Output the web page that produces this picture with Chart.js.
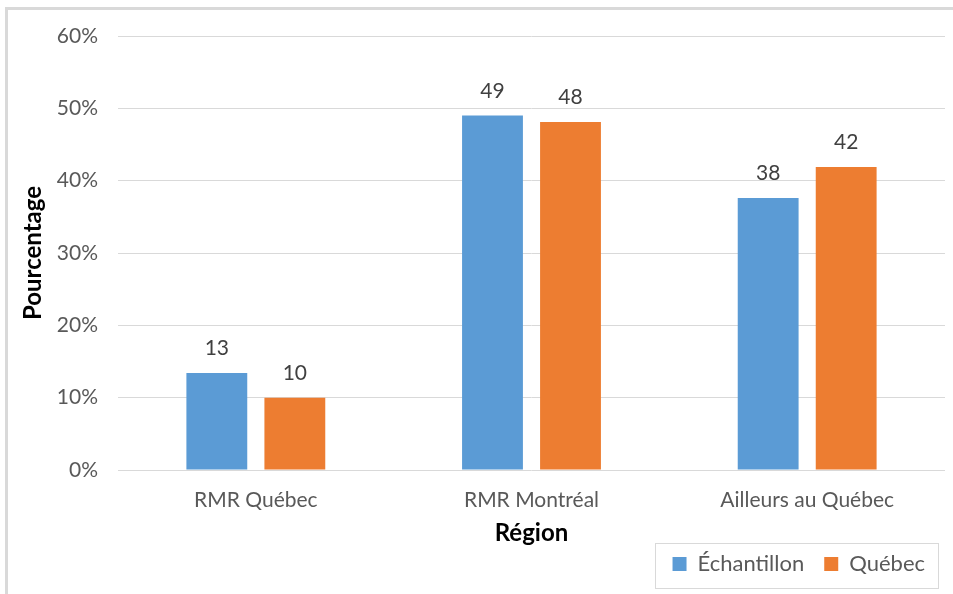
<!DOCTYPE html>
<html>
<head>
<meta charset="utf-8">
<script src="https://cdn.jsdelivr.net/npm/chart.js@4/dist/chart.umd.min.js"></script>
<style>
  html, body { margin: 0; padding: 0; background: #fff; }
  #wrap { position: relative; width: 953px; height: 594px; overflow: hidden; }
  #frame { position: absolute; left: 5px; top: 7px; width: 1000px; height: 700px; border: 3px solid #d9d9d9; box-sizing: border-box; }
  canvas { position: absolute; left: 0; top: 0; }
</style>
</head>
<body>
<div id="wrap">
  <div id="frame"></div>
  <canvas id="myChart" width="953" height="594"></canvas>
</div>
<script>
const regions = ["RMR Québec", "RMR Montréal", "Ailleurs au Québec"];
const echantillon = [13.4, 49.0, 37.6];
const quebec = [10.0, 48.1, 41.9];
const echantillonLabels = ["13", "49", "38"];
const quebecLabels = ["10", "48", "42"];
const yTicks = [0, 10, 20, 30, 40, 50, 60];

const fontFamily = "Lato, 'Open Sans', sans-serif";

// draws the value above each bar
const barValues = {
  id: "barValues",
  afterDatasetsDraw(chart) {
    const ctx = chart.ctx;
    ctx.save();
    ctx.font = "21px " + fontFamily;
    ctx.fillStyle = "#404040";
    ctx.textAlign = "center";
    ctx.textBaseline = "alphabetic";
    chart.data.datasets.forEach((ds, i) => {
      chart.getDatasetMeta(i).data.forEach((bar, j) => {
        ctx.fillText(ds.valueLabels[j], bar.x, bar.y - 18);
      });
    });
    ctx.restore();
  }
};

// keeps the legend short, lifts it a bit and puts a box round it
const legendBox = {
  id: "legendBox",
  beforeLayout(chart) {
    const legend = chart.legend;
    if (!legend || legend._shortFit) return;
    const fit = legend.fit;
    legend.fit = function () { fit.call(this); this.height = 46; };
    legend._shortFit = true;
  },
  afterLayout(chart) {
    const legend = chart.legend;
    legend.top -= 15;
    legend.bottom -= 15;
  },
  afterDraw(chart) {
    const ctx = chart.ctx;
    ctx.save();
    ctx.strokeStyle = "#d9d9d9";
    ctx.lineWidth = 1;
    ctx.strokeRect(655.5, 543.5, 283, 45);
    ctx.restore();
  }
};

var ctx = document.getElementById("myChart").getContext("2d");
var myChart = new Chart(ctx, {
  type: "bar",
  data: {
    labels: regions,
    datasets: [{
      label: "Échantillon",
      data: echantillon,
      valueLabels: echantillonLabels,
      backgroundColor: "#5b9bd5",
      categoryPercentage: 0.566,
      barPercentage: 0.78
    }, {
      label: "Québec",
      data: quebec,
      valueLabels: quebecLabels,
      backgroundColor: "#ed7d31",
      categoryPercentage: 0.566,
      barPercentage: 0.78
    }]
  },
  options: {
    responsive: false,
    animation: false,
    layout: { padding: { left: 15, right: 8, top: 36, bottom: 0 } },
    plugins: {
      legend: {
        position: "bottom",
        align: "end",
        labels: {
          boxWidth: 14,
          boxHeight: 14,
          padding: 20,
          color: "#595959",
          font: { family: fontFamily, size: 22 }
        }
      },
      tooltip: { enabled: false }
    },
    scales: {
      x: {
        grid: { display: false },
        border: { display: false },
        ticks: { color: "#595959", padding: 10, font: { family: fontFamily, size: 21 } },
        title: { display: true, text: "Région", color: "#000", padding: { top: -4, bottom: 0 }, font: { family: fontFamily, size: 24, weight: "bold" } }
      },
      y: {
        min: 0,
        max: 60,
        afterBuildTicks: axis => { axis.ticks = yTicks.map(v => ({ value: v })); },
        afterFit: axis => { axis.width = 103; },
        grid: { color: "#d9d9d9", drawTicks: false },
        border: { display: false },
        ticks: { color: "#595959", padding: 20, callback: v => v + "%", font: { family: fontFamily, size: 21 } },
        title: { display: true, text: "Pourcentage", color: "#000", padding: { top: 4, bottom: 0 }, font: { family: fontFamily, size: 24, weight: "bold" } }
      }
    }
  },
  plugins: [barValues, legendBox]
});
</script>
</body>
</html>
